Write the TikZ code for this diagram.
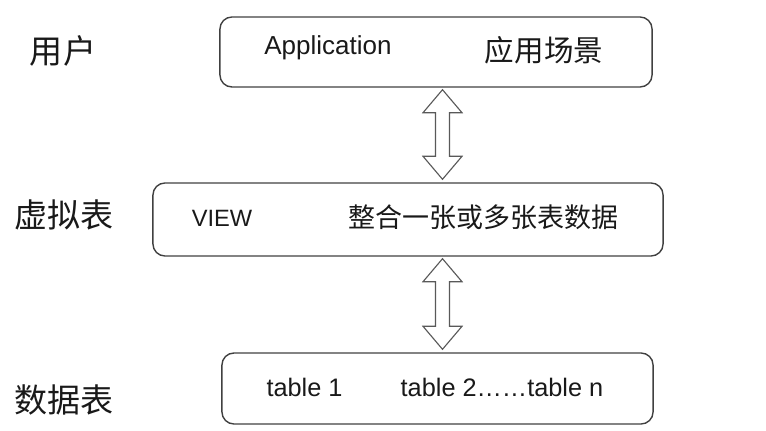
\documentclass[tikz,border=0pt]{standalone}
\usepackage{fontspec}
\setmainfont{Liberation Sans}
\newfontfamily\cjk{Noto Sans CJK SC}
\usepackage{tikz}
\usetikzlibrary{calc,positioning}
\tikzset{
  % a rounded layer box
  layerbox/.style = {draw=black!75, line width=1pt, rounded corners=0.3cm, inner sep=0pt},
  % latin text inside a box
  btext/.style    = {inner sep=0pt, anchor=base, text=black!90, font=\fontsize{18.5}{20}\selectfont},
  % chinese text inside a box
  ctext/.style    = {inner sep=0pt, text=black!90, font=\cjk\fontsize{21}{24}\selectfont},
  % chinese label at the left
  llabel/.style   = {inner sep=0pt, text=black!90, font=\cjk\fontsize{23.5}{26}\selectfont},
  % hollow double arrow between two layers
  darrow/.style   = {draw=black!65, line width=0.8pt, fill=white, line join=miter},
}

\begin{document}
\begin{tikzpicture}[x=0.025cm,y=-0.025cm]
    \useasboundingbox (0,0) rectangle (766,431);
    % the three layers
    \node[layerbox,minimum width=10.8cm,minimum height=1.75cm] (app) at (436,52) {};
    \node[layerbox,minimum width=12.75cm,minimum height=1.825cm] (view) at (408,219.5) {};
    \node[layerbox,minimum width=10.775cm,minimum height=1.775cm] (tab) at (437.5,388.5) {};
    % texts in the boxes
    \node[btext] (apptxt) at (328,55) {Application};
    \node[ctext] (appcn) at (544,50) {应用场景};
    \node[btext,font=\fontsize{16.8}{18}\selectfont] (viewtxt) at (222,227) {VIEW};
    \node[ctext,font=\cjk\fontsize{19.2}{22}\selectfont] (viewcn) at (483.5,217) {整合一张或多张表数据};
    \node[btext,font=\fontsize{18}{20}\selectfont] (tabone) at (304.5,396) {table 1};
    \node[btext,font=\fontsize{18}{20}\selectfont] (tabn) at (502,396) {table 2……table n};
    % labels at the left
    \node[llabel] (user) at (63,51) {用户};
    \node[llabel] (virt) at (64,215) {虚拟表};
    \node[llabel] (data) at (64,400) {数据表};
    % double arrows between layers
    \coordinate (ax) at (442.5,0);
    \foreach \u/\l in {app/view, view/tab} {
      \draw[darrow] ($(\u.south -| ax)+(0,2)$) -- ++(19.5,23) -- ++(-12.5,0)
        -- ($(\l.north -| ax)+(7,-26)$) -- ++(12.5,0) -- ($(\l.north -| ax)+(0,-3)$)
        -- ++(-19.5,-23) -- ++(12.5,0) -- ($(\u.south -| ax)+(-7,25)$) -- ++(-12.5,0) -- cycle;
    }
\end{tikzpicture}
\end{document}
